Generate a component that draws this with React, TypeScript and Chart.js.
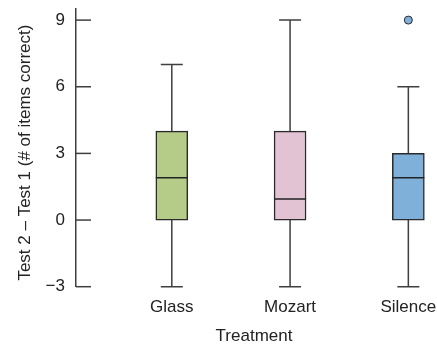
import React, { useEffect, useRef } from "react";
import { Chart, registerables } from "chart.js";

Chart.register(...registerables);

const categories = ["Glass", "Mozart", "Silence"];
const mins = [-3, -3, -3];
const q1s = [0, 0, 0];
const medians = [1.9, 0.95, 1.9];
const q3s = [4, 4, 3];
const maxs = [7, 9, 6];
const outliers = [{ group: 3, value: 9 }];
const boxColors = ["#b5cc88", "#e2c3d3", "#7fb0d9"];
const yTicks = [-3, 0, 3, 6, 9];

const FONT = "'Liberation Sans', Arial, Helvetica, sans-serif";
const TEXT = "#222222";
const LINE = "#3f3f3f";

const boxPlugin = {
  id: "boxParts",
  beforeDatasetsDraw(chart: any) {
    const { ctx } = chart;
    const xs = chart.scales.x;
    const ys = chart.scales.y;
    ctx.save();
    ctx.strokeStyle = LINE;
    ctx.lineWidth = 1.5;
    categories.forEach((_, i) => {
      const x = xs.getPixelForValue(i + 1);
      const cap = 11;
      const yMin = ys.getPixelForValue(mins[i]);
      const yQ1 = ys.getPixelForValue(q1s[i]);
      const yQ3 = ys.getPixelForValue(q3s[i]);
      const yMax = ys.getPixelForValue(maxs[i]);
      ctx.beginPath();
      ctx.moveTo(x, yMin);
      ctx.lineTo(x, yQ1);
      ctx.moveTo(x, yQ3);
      ctx.lineTo(x, yMax);
      ctx.moveTo(x - cap, yMin);
      ctx.lineTo(x + cap, yMin);
      ctx.moveTo(x - cap, yMax);
      ctx.lineTo(x + cap, yMax);
      ctx.stroke();
    });
    ctx.restore();
  },
  afterDatasetsDraw(chart: any) {
    const { ctx } = chart;
    const ys = chart.scales.y;
    const meta = chart.getDatasetMeta(0);
    ctx.save();
    ctx.strokeStyle = "#222";
    ctx.lineWidth = 1.5;
    meta.data.forEach((bar: any, i: number) => {
      const y = ys.getPixelForValue(medians[i]);
      ctx.beginPath();
      ctx.moveTo(bar.x - bar.width / 2, y);
      ctx.lineTo(bar.x + bar.width / 2, y);
      ctx.stroke();
    });
    ctx.strokeStyle = LINE;
    ctx.lineWidth = 1.5;
    ys.ticks.forEach((t: any) => {
      const y = ys.getPixelForValue(t.value);
      ctx.beginPath();
      ctx.moveTo(ys.right, y);
      ctx.lineTo(ys.right + 15, y);
      ctx.stroke();
    });
    ctx.restore();
  },
};

export default function App() {
  const ref = useRef<HTMLCanvasElement>(null);
  useEffect(() => {
    if (!ref.current) return;
    const chart = new Chart(ref.current, {
      type: "bar",
      data: {
        datasets: [
          {
            type: "bar",
            data: categories.map((_, i) => ({ x: i + 1, y: [q1s[i], q3s[i]] })) as any,
            backgroundColor: boxColors,
            borderColor: "#2a2a2a",
            borderWidth: 1.5,
            borderSkipped: false,
            barThickness: 32,
          } as any,
          {
            type: "scatter",
            data: outliers.map((o) => ({ x: o.group, y: o.value })),
            backgroundColor: boxColors[2],
            borderColor: "#2a2a2a",
            borderWidth: 1,
            pointRadius: 4,
          } as any,
        ],
      },
      options: {
        responsive: false,
        animation: false,
        layout: { padding: { top: 9, right: 5, left: 0, bottom: 0 } },
        plugins: { legend: { display: false }, tooltip: { enabled: false } },
        scales: {
          x: {
            type: "linear",
            min: 0.19,
            max: 3.2,
            offset: false,
            grid: { display: false, drawTicks: false, offset: false },
            border: { display: false },
            afterBuildTicks: (s: any) => {
              s.ticks = categories.map((_, i) => ({ value: i + 1 }));
            },
            afterFit: (s: any) => {
              s.height = 60.3;
              s.paddingLeft = 0;
              s.paddingRight = 0;
            },
            ticks: {
              padding: 10,
              color: TEXT,
              font: { family: FONT, size: 17 },
              callback: (v: any) => categories[Math.round(v) - 1] ?? "",
              autoSkip: false,
              maxRotation: 0,
            },
            title: {
              display: true,
              text: "Treatment",
              color: TEXT,
              font: { family: FONT, size: 17 },
              padding: { top: 4, bottom: 0 },
            },
          },
          y: {
            type: "linear",
            min: -3,
            max: 9.5,
            grid: { display: false, drawTicks: false },
            border: { display: true, color: LINE, width: 1.5 },
            afterBuildTicks: (s: any) => {
              s.ticks = yTicks.map((v) => ({ value: v }));
            },
            afterFit: (s: any) => {
              s.width = 76;
              s.paddingTop = 0;
              s.paddingBottom = 0;
            },
            ticks: {
              padding: 11,
              color: TEXT,
              font: { family: FONT, size: 17 },
              callback: (v: any) => (v < 0 ? "\u2212" + Math.abs(v) : String(v)),
            },
            title: {
              display: true,
              text: "Test 2 \u2013 Test 1 (# of items correct)  ",
              color: TEXT,
              font: { family: FONT, size: 17 },
              padding: { top: 15, bottom: 0 },
            },
          },
        },
      },
      plugins: [boxPlugin],
    });
    return () => chart.destroy();
  }, []);
  return (
    <div style={{ position: "absolute", left: 0, top: 0, width: 437, height: 347 }}>
      <canvas ref={ref} width={437} height={347} />
    </div>
  );
}
